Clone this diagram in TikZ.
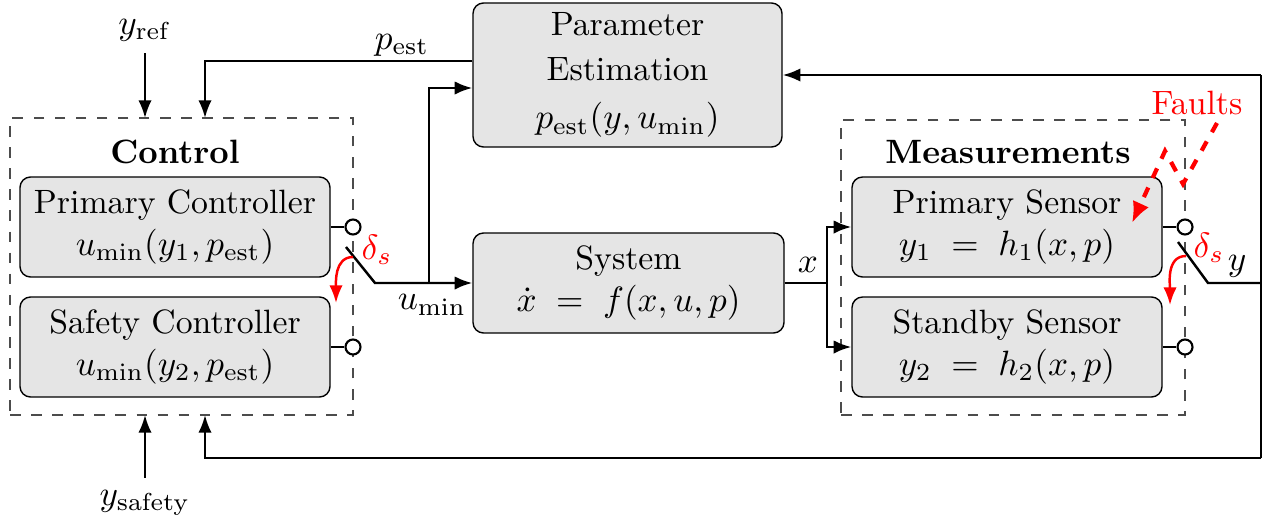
\documentclass[tikz,border=0pt]{standalone}
\usepackage{amsmath}
\usepackage{mathtools}
\usepackage{tikz}
\usetikzlibrary{arrows.meta,calc}
\usepackage{tkz-euclide}
\usepackage{xcolor}

\tikzset{
    block/.style={draw,thin,fill=gray!20,rounded corners=3pt,align=center,minimum width=3.1cm,minimum height=1cm,inner sep=2pt},
    group/.style={draw=black!70,dashed,thin},
    contact/.style={draw,circle,semithick,inner sep=0pt,minimum size=0.15cm,fill=white},
    wire/.style={line width=0.7pt},
    arr/.style={line width=0.7pt,-{Latex[length=5pt,width=3.8pt]}},
    swarr/.style={red,line width=0.7pt,-{Latex[length=5pt,width=3.8pt]}},
}

\begin{document}
\begin{tikzpicture}[font=\fontsize{9.6}{11.8}\selectfont]
    \useasboundingbox (0,0) rectangle (12.71,5.22);

    \node[group,minimum width=3.43cm,minimum height=2.97cm] (ctrl) at (1.815,2.555) {};
    \node[group,minimum width=3.44cm,minimum height=2.95cm] (meas) at (10.13,2.545) {};
    \node (ctrltitle) at (1.75,3.70) {\textbf{Control}};
    \node (meastitle) at (10.08,3.70) {\textbf{Measurements}};

    \node[block] (pc) at (1.75,2.95) {Primary Controller\\ $u_{\min}(y_1,p_{\mathrm{est}})$};
    \node[block] (sc) at (1.75,1.75) {Safety Controller\\ $u_{\min}(y_2,p_{\mathrm{est}})$};
    \node[block,minimum width=3.09cm,minimum height=1.44cm] (par) at (6.275,4.47) {Parameter\\[1pt] Estimation\\[2pt] $p_{\mathrm{est}}(y,u_{\min})$};
    \node[block,minimum width=3.11cm] (sys) at (6.285,2.39) {System\\ $\dot{x} \;=\; f(x,u,p)$};
    \node[block] (ps) at (10.07,2.95) {Primary Sensor\\ $y_1 \;=\; h_1(x,p)$};
    \node[block] (ss) at (10.07,1.75) {Standby Sensor\\ $y_2 \;=\; h_2(x,p)$};

    \node[contact] (c1) at (3.53,2.95) {};
    \node[contact] (c2) at (3.53,1.75) {};
    \node[contact] (c3) at (11.85,2.95) {};
    \node[contact] (c4) at (11.85,1.75) {};
    \draw[wire] (pc.east) -- (c1.west);
    \draw[wire] (sc.east) -- (c2.west);
    \draw[wire] (ps.east) -- (c3.west);
    \draw[wire] (ss.east) -- (c4.west);

    \tkzDefPoint(3.46,2.75){L1}
    \tkzDefPoint(3.75,2.39){L2}
    \tkzDefPoint(4.29,2.39){B1}
    \tkzDefPoint(11.78,2.80){R1}
    \tkzDefPoint(12.08,2.39){R2}
    \tkzDefPoint(12.61,2.39){R3}
    \tkzDefPoint(12.61,4.49){R4}
    \tkzDefPoint(12.61,0.64){R5}
    \tkzDefPoint(2.05,0.64){R6}
    \tkzDefPoint(8.27,2.39){X1}
    \tkzDefPoint(2.05,4.04){P1}
    \tkzDefPoint(1.45,4.04){Q1}
    \tkzDefPoint(1.45,1.07){Q2}

    \draw[arr] (L1) -- (L2) -- (sys.west);
    \draw[arr] (B1) |- ([yshift=-0.13cm]par.west);
    \draw[arr] ([yshift=0.14cm]par.west) -| (P1);
    \draw[wire] (sys.east) -- (X1);
    \draw[arr] (X1) |- (ps.west);
    \draw[arr] (X1) |- (ss.west);
    \draw[wire] (R1) -- (R2) -- (R3);
    \draw[arr] (R4 |- par.east) -- (par.east);
    \draw[wire] (R4 |- par.east) -- (R5);
    \draw[arr] (R5) -- (R6) -- ($(R6)+(0,0.43)$);

    \node (yref) at (1.45,4.92) {$y_{\mathrm{ref}}$};
    \node (ysafe) at (1.45,0.19) {$y_{\mathrm{safety}}$};
    \draw[arr] (yref.south) -- (Q1);
    \draw[arr] (ysafe.north) -- (Q2);

    \node (pestlbl) at (4.02,4.77) {$p_{\mathrm{est}}$};
    \node (uminlbl) at (4.32,2.17) {$u_{\min}$};
    \node (xlbl) at (8.08,2.57) {$x$};
    \node (ylbl) at (12.37,2.56) {$y$};

    \node[red] (dl) at (3.77,2.72) {$\delta_s$};
    \node[red] (dr) at (12.09,2.74) {$\delta_s$};
    \draw[swarr] (3.53,2.65) to[out=180,in=90] (3.36,2.19);
    \draw[swarr] (11.86,2.66) to[out=180,in=90] (11.70,2.17);

    \node[red] (faults) at (11.97,4.19) {Faults};
    \tkzDefPoint(12.17,3.99){F1}
    \tkzDefPoint(11.83,3.38){F2}
    \tkzDefPoint(11.65,3.71){F3}
    \tkzDefPoint(11.32,2.99){F4}
    \draw[red,dashed,very thick,-{Latex[length=6pt,width=5pt]}] (F1) -- (F2) -- (F3) -- (F4);
\end{tikzpicture}
\end{document}
